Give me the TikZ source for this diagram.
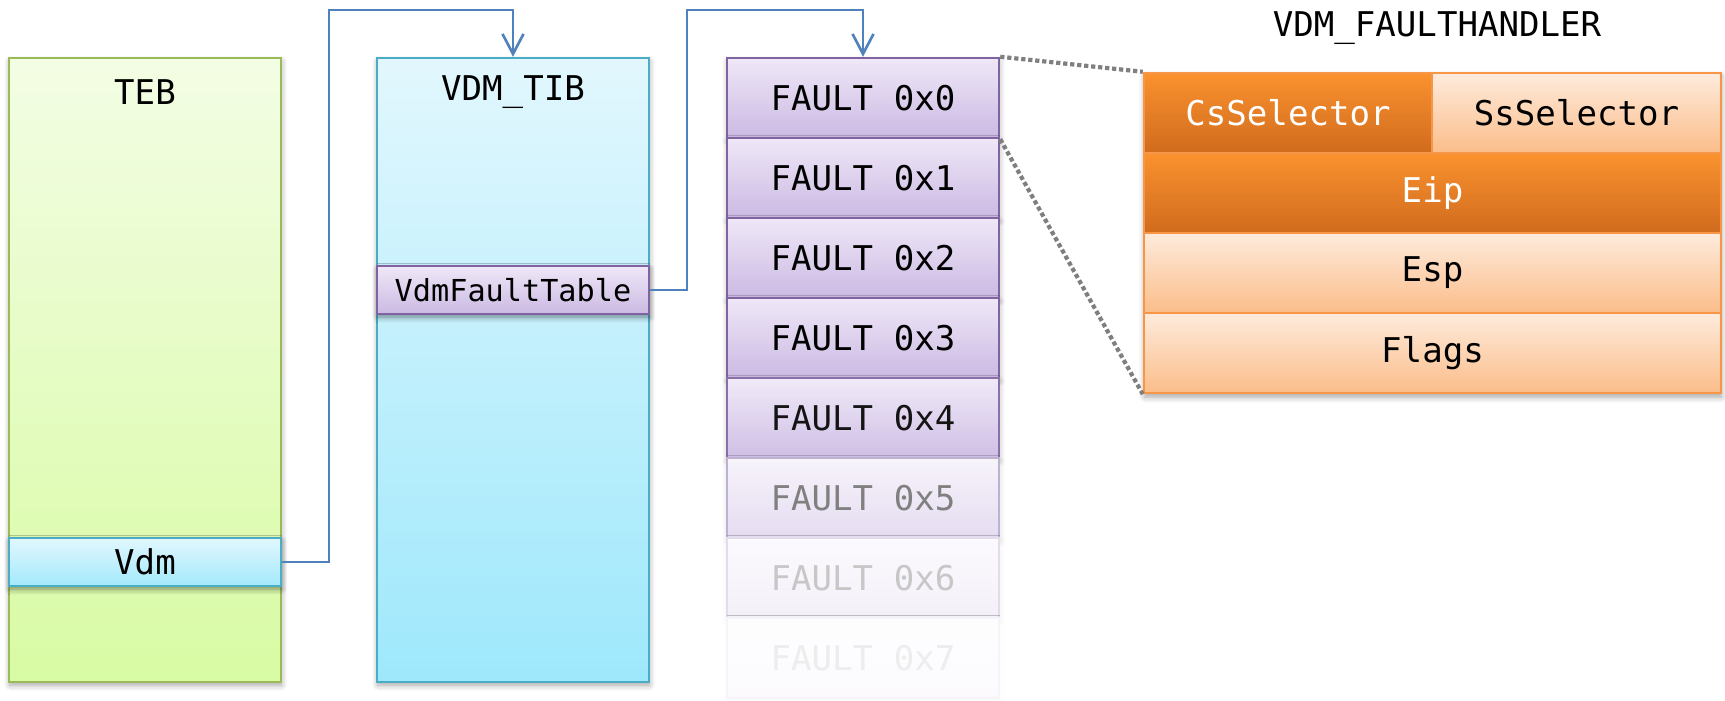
\documentclass[tikz,border=0pt]{standalone}
\usepackage{fontspec}
\newfontfamily\codefont{DejaVu Sans Mono}
\usetikzlibrary{arrows.meta,shadows.blur}

% palette
\definecolor{tebTop}{HTML}{F3FDE4}
\definecolor{tebBot}{HTML}{D8FBA4}
\definecolor{tebLine}{HTML}{9BBB59}
\definecolor{tibTop}{HTML}{E2F7FD}
\definecolor{tibBot}{HTML}{9EE8FC}
\definecolor{tibLine}{HTML}{4BACC6}
\definecolor{vioTop}{HTML}{EFE8F7}
\definecolor{vioBot}{HTML}{CBB9E3}
\definecolor{vioLine}{HTML}{8064A2}
\definecolor{orDarkTop}{HTML}{FA922E}
\definecolor{orDarkBot}{HTML}{D06B1E}
\definecolor{orLightTop}{HTML}{FEEBDC}
\definecolor{orLightBot}{HTML}{FBBD8A}
\definecolor{orLine}{HTML}{F79646}
\definecolor{linkBlue}{HTML}{4F81BD}
\definecolor{zoomGray}{HTML}{7F7F7F}

\tikzset{
  cell/.style={rectangle, inner sep=0pt, line width=0.7pt,
    font=\codefont\fontsize{9.7}{11}\selectfont},
  softshadow/.style={blur shadow={shadow xshift=0.2pt, shadow yshift=-0.9pt,
    shadow blur radius=1.6pt, shadow blur steps=6, shadow opacity=#1}},
  softshadow/.default=35,
  teb/.style={cell, draw=tebLine, top color=tebTop, bottom color=tebBot,
    minimum width=27.2mm, minimum height=62.4mm, softshadow},
  tib/.style={cell, draw=tibLine, top color=tibTop, bottom color=tibBot,
    minimum width=27.2mm, minimum height=62.4mm, softshadow},
  vdmfield/.style={cell, draw=tibLine, top color=tibTop, bottom color=tibBot!95!white,
    minimum width=27.2mm, minimum height=4.8mm, softshadow=45},
  vftfield/.style={cell, draw=vioLine, top color=vioTop, bottom color=vioBot,
    minimum width=27.2mm, minimum height=4.8mm, softshadow=45,
    font=\codefont\fontsize{8.6}{10}\selectfont},
  fault/.style={cell, draw=vioLine!#1!white, top color=vioTop!#1!white,
    bottom color=vioBot!#1!white, text=black!#1!white,
    minimum width=27.2mm, minimum height=8mm},
  fault/.default=100,
  hdark/.style={cell, draw=orLine, top color=orDarkTop, bottom color=orDarkBot,
    text=white, minimum height=8mm},
  hlight/.style={cell, draw=orLine, top color=orLightTop, bottom color=orLightBot,
    minimum height=8mm},
  title/.style={font=\codefont\fontsize{9.7}{11}\selectfont, inner sep=0pt},
  link/.style={draw=linkBlue, line width=0.75pt,
    -{Straight Barb[length=2mm,width=2.1mm,line width=0.75pt]}},
  zoomline/.style={draw=zoomGray, line width=1.2pt, dash pattern=on 1.2pt off 0.8pt},
}

\begin{document}
\begin{tikzpicture}[x=0.1mm, y=-0.1mm]
  \useasboundingbox (0,0) rectangle (1725,701);

  % TEB structure
  \node[teb] (teb) at (145,370) {};
  \node[title] (tebname) at (145,92) {TEB};
  \node[vdmfield] (vdm) at (145,562) {Vdm};

  % VDM_TIB structure
  \node[tib] (tib) at (513,370) {};
  \node[title] (tibname) at (513,92) {VDM\_TIB};
  \node[vftfield] (vft) at (513,290) {VdmFaultTable};

  % fault handler table, fading out at the bottom
  \node[fault, softshadow=30] (f0) at (863,98)  {FAULT 0x0};
  \node[fault, softshadow=30] (f1) at (863,178) {FAULT 0x1};
  \node[fault, softshadow=30] (f2) at (863,258) {FAULT 0x2};
  \node[fault, softshadow=30] (f3) at (863,338) {FAULT 0x3};
  \node[fault=92, softshadow=27] (f4) at (863,418) {FAULT 0x4};
  \node[fault=50, softshadow=15] (f5) at (863,498) {FAULT 0x5};
  \node[fault=22, softshadow=7]  (f6) at (863,578) {FAULT 0x6};
  \node[fault=7,  softshadow=2]  (f7) at (863,658) {FAULT 0x7};

  % VDM_FAULTHANDLER layout
  \node[title] (fhname) at (1437,28) {VDM\_FAULTHANDLER};
  \path[softshadow, fill=white] (1144,73) rectangle (1721,394);
  \node[hdark,  minimum width=28.8mm] (cs)    at (1288,113)   {CsSelector};
  \node[hlight, minimum width=28.9mm] (ss)    at (1576.5,113) {SsSelector};
  \node[hdark,  minimum width=57.7mm] (eip)   at (1432.5,193) {Eip};
  \node[hlight, minimum width=57.7mm] (esp)   at (1432.5,273) {Esp};
  \node[hlight, minimum width=57.7mm] (flags) at (1432.5,353) {Flags};

  % pointers
  \coordinate (up1) at (329,10);
  \coordinate (up2) at (687,10);
  \draw[link] (vdm.east) -| (up1) -| (tib.north);
  \draw[link] (vft.east) -| (up2) -| (f0.north);

  % zoom-in guides from the first entry to its layout
  \draw[zoomline] (f0.north east) -- (cs.north west);
  \draw[zoomline] (f0.south east) -- (flags.south west);
\end{tikzpicture}
\end{document}
